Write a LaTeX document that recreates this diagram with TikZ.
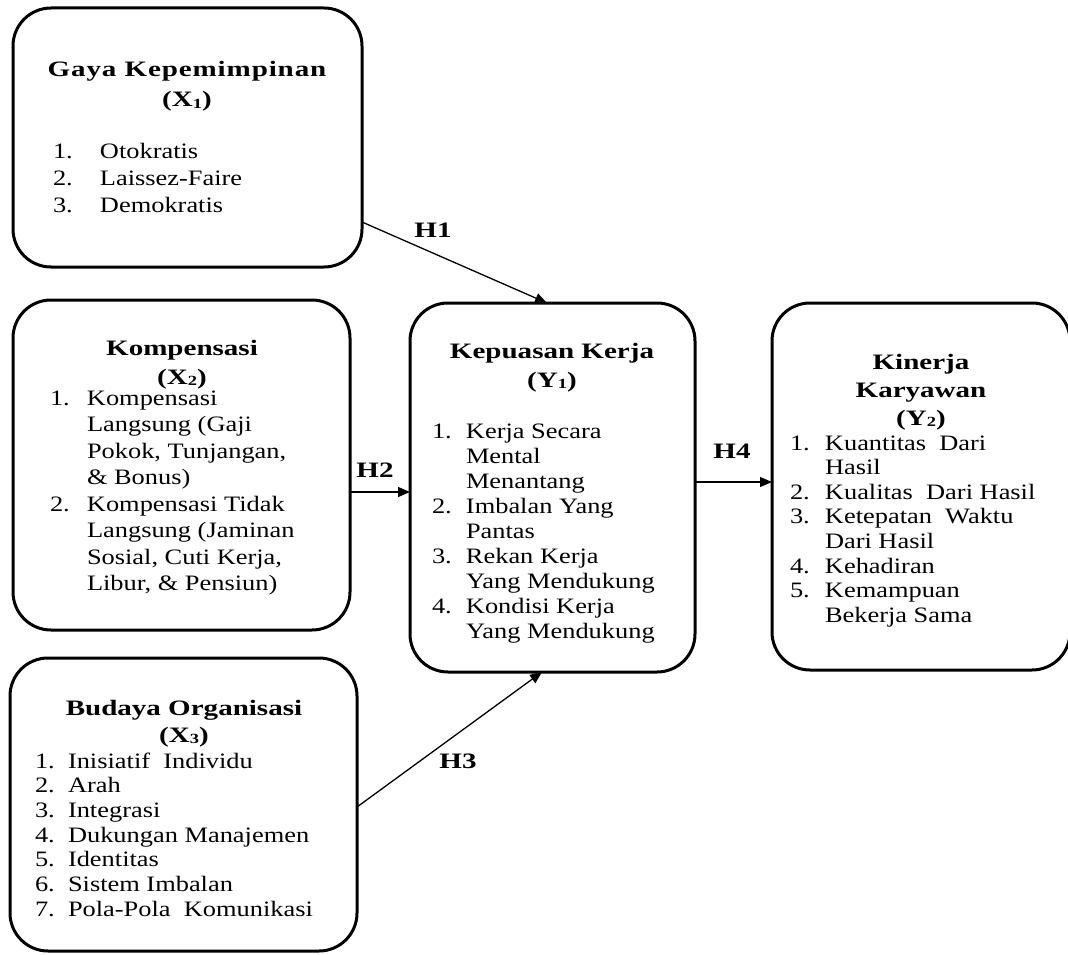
\documentclass[tikz,border=0pt]{standalone}
\usepackage{fontspec}
\setmainfont{Liberation Serif}[FakeStretch=1.2]
\newfontfamily\tf{Liberation Serif}[FakeStretch=1.32]
\usetikzlibrary{arrows.meta}
\newcommand\sbs[1]{\raisebox{-1.5pt}{\fontsize{14}{14}\selectfont #1}}
\tikzset{
 box/.style={draw, line width=3pt, rounded corners=38pt, inner sep=0pt, outer sep=0pt},
 txt/.style={inner sep=0pt, outer sep=0pt},
 ttl/.style={txt, anchor=base, font=\tf\bfseries\fontsize{22}{#1}\selectfont},
 lst/.style={txt, anchor=base west, font=\fontsize{22}{#1}\selectfont},
 hl/.style={txt, anchor=base, font=\tf\bfseries\fontsize{22}{26}\selectfont},
 arr/.style={line width=1.3pt, -{Triangle[length=12pt,width=10pt]}}
}
\begin{document}
\begin{tikzpicture}[x=1pt,y=-1pt]
\useasboundingbox (0,0) rectangle (1068,955);
% boxes
\node[box, minimum width=349pt, minimum height=259pt] (X1) at (187.5,137.5) {};
\node[box, minimum width=337pt, minimum height=330pt] (X2) at (181.5,465) {};
\node[box, minimum width=347pt, minimum height=293pt] (X3) at (183.5,804.5) {};
\node[box, minimum width=285pt, minimum height=369pt] (Y1) at (552.5,487.5) {};
\node[box, minimum width=298pt, minimum height=367pt] (Y2) at (921,486.5) {};
% X1
\node[ttl=30] (tX1) at (187,77) {\begin{tabular}[t]{@{}c@{}}{\addfontfeature{LetterSpace=4}Gaya Kepemimpinan}\\(X\sbs{1})\end{tabular}};
\node[lst=27.5] (lX1) at (53,158) {\begin{tabular}[t]{@{}p{47pt}@{}l@{}}1.&Otokratis\\2.&Laissez-Faire\\3.&Demokratis\end{tabular}};
% X2
\node[ttl=29] (tX2) at (182,355) {\begin{tabular}[t]{@{}c@{}}Kompensasi\\(X\sbs{2})\end{tabular}};
\node[lst=26.5] (lX2) at (50,405) {\begin{tabular}[t]{@{}p{37pt}@{}l@{}}1.&Kompensasi\\&Langsung (Gaji\\&Pokok, Tunjangan,\\&\& Bonus)\\2.&Kompensasi Tidak\\&Langsung (Jaminan\\&Sosial, Cuti Kerja,\\&Libur, \& Pensiun)\end{tabular}};
% X3
\node[ttl=27] (tX3) at (184,715) {\begin{tabular}[t]{@{}c@{}}Budaya Organisasi\\(X\sbs{3})\end{tabular}};
\node[lst=24.7] (lX3) at (35,768) {\begin{tabular}[t]{@{}p{33pt}@{}l@{}}1.&Inisiatif\ \ Individu\\2.&Arah\\3.&Integrasi\\4.&Dukungan Manajemen\\5.&Identitas\\6.&Sistem Imbalan\\7.&Pola-Pola\ \ Komunikasi\end{tabular}};
% Y1
\node[ttl=29] (tY1) at (552,358) {\begin{tabular}[t]{@{}c@{}}Kepuasan Kerja\\(Y\sbs{1})\end{tabular}};
\node[lst=25] (lY1) at (432,438) {\begin{tabular}[t]{@{}p{34pt}@{}l@{}}1.&Kerja Secara\\&Mental\\&Menantang\\2.&Imbalan Yang\\&Pantas\\3.&Rekan Kerja\\&Yang Mendukung\\4.&Kondisi Kerja\\&Yang Mendukung\end{tabular}};
% Y2
\node[ttl=28] (tY2) at (921,369) {\begin{tabular}[t]{@{}c@{}}Kinerja\\Karyawan\\(Y\sbs{2})\end{tabular}};
\node[lst=24.6] (lY2) at (790,450) {\begin{tabular}[t]{@{}p{35pt}@{}l@{}}1.&Kuantitas\ \ Dari\\&Hasil\\2.&Kualitas\ \ Dari Hasil\\3.&Ketepatan\ \ Waktu\\&Dari Hasil\\4.&Kehadiran\\5.&Kemampuan\\&Bekerja Sama\end{tabular}};
% arrows
\draw[arr] ([yshift=-84.5pt]X1.east) -- ([xshift=-5.5pt]Y1.north);
\coordinate (h2) at ([yshift=-27pt]X2.east);
\draw[arr] (h2) -- (h2 -| Y1.west);
\draw[arr] ([yshift=-2.5pt]X3.east) -- ([xshift=-10.5pt]Y1.south);
\coordinate (h4) at ([yshift=5.5pt]Y1.east);
\draw[arr] (h4) -- (h4 -| Y2.west);
% labels
\node[hl] (H1) at (433,237) {H1};
\node[hl] (H2) at (375,477) {H2};
\node[hl] (H3) at (458,768) {H3};
\node[hl] (H4) at (732,458) {H4};
\end{tikzpicture}
\end{document}
